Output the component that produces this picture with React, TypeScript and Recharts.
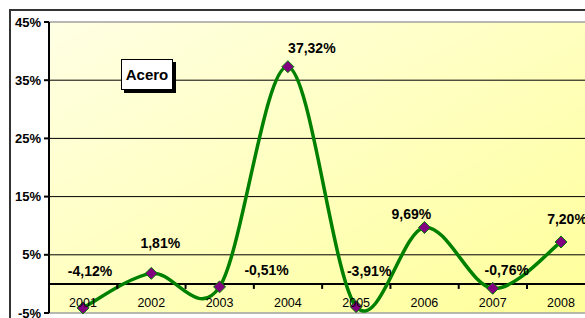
import { LineChart, Line, XAxis, YAxis, ReferenceLine, CartesianGrid, LabelList } from 'recharts';

const years = ['2001', '2002', '2003', '2004', '2005', '2006', '2007', '2008'];
const acero = [-4.12, 1.81, -0.51, 37.32, -3.91, 9.69, -0.76, 7.2];
const yTicks = [-5, 5, 15, 25, 35, 45];
const gridValues = [5, 15, 25, 35];

const data = years.map((year, i) => ({ year, acero: acero[i] }));

// label nudges (dx, dy) so they sit where the original put them
const LABEL_SHIFT: [number, number][] = [
  [7, -37],
  [9, -30],
  [47, -17],
  [24, -19],
  [13, -36],
  [-13, -14],
  [14, -18],
  [6, -23],
];

const FONT = '"Liberation Sans", Arial, sans-serif';
const W = 600;
const H = 318;
const X_AXIS_H = 5;
const MARGIN = { top: 22, right: 5, left: 10, bottom: 0 };
const Y_MIN = -5;
const Y_MAX = 45;
const PAD = 34;
const plotH = H - MARGIN.top - MARGIN.bottom - X_AXIS_H;
const zeroY = MARGIN.top + (plotH * Y_MAX) / (Y_MAX - Y_MIN);

// Excel-style smoothed line (Catmull-Rom through every point)
const excelSmooth = (context: any) => {
  let pts: number[][] = [];
  return {
    areaStart() {},
    areaEnd() {},
    lineStart() {
      pts = [];
    },
    point(x: number, y: number) {
      pts.push([+x, +y]);
    },
    lineEnd() {
      if (!pts.length) return;
      context.moveTo(pts[0][0], pts[0][1]);
      for (let i = 0; i < pts.length - 1; i++) {
        const p0 = pts[Math.max(i - 1, 0)];
        const p1 = pts[i];
        const p2 = pts[i + 1];
        const p3 = pts[Math.min(i + 2, pts.length - 1)];
        context.bezierCurveTo(
          p1[0] + (p2[0] - p0[0]) / 6,
          p1[1] + (p2[1] - p0[1]) / 6,
          p2[0] - (p3[0] - p1[0]) / 6,
          p2[1] - (p3[1] - p1[1]) / 6,
          p2[0],
          p2[1]
        );
      }
    },
  };
};

const Diamond = (props: any) => {
  const { cx, cy } = props;
  if (cx == null || cy == null) return null;
  const r = 6;
  return (
    <path
      d={`M${cx},${cy - r}L${cx + r},${cy}L${cx},${cy + r}L${cx - r},${cy}Z`}
      fill="#800080"
      stroke="#008000"
      strokeWidth={1}
    />
  );
};

const XTick = (props: any) => {
  const { x, payload } = props;
  return (
    <g>
      <line x1={x - PAD} x2={x - PAD} y1={zeroY} y2={zeroY + 5} stroke="#000" strokeWidth={2} />
      <text
        x={x}
        y={zeroY + 23}
        textAnchor="middle"
        fontFamily={FONT}
        fontSize={12.5}
        fill="#000"
      >
        {payload.value}
      </text>
    </g>
  );
};

const ValueLabel = (props: any) => {
  const { x, y, value, index } = props;
  const [dx, dy] = LABEL_SHIFT[index] || [0, -15];
  return (
    <text
      x={x + dx}
      y={y + dy}
      textAnchor="middle"
      dominantBaseline="central"
      fontFamily={FONT}
      fontWeight="bold"
      fontSize={14}
      fill="#000"
    >
      {value.toFixed(2).replace('.', ',')}%
    </text>
  );
};

export default function App() {
  return (
    <div
      style={{
        position: 'absolute',
        left: 0,
        top: 0,
        width: 585,
        height: 318,
        overflow: 'hidden',
        background: '#fff',
      }}
    >
      <div
        style={{
          position: 'absolute',
          left: 9,
          top: 9,
          width: 700,
          height: 400,
          borderLeft: '2px solid #333',
          borderTop: '2px solid #333',
        }}
      />
      <div style={{ position: 'absolute', left: 0, top: 0 }}>
        <LineChart width={W} height={H} data={data} margin={MARGIN}>
          <defs>
            <linearGradient id="plotBg" x1="0" y1="0" x2="1" y2="1">
              <stop offset="0%" stopColor="#ffffe4" />
              <stop offset="100%" stopColor="#ffff99" />
            </linearGradient>
          </defs>
          <CartesianGrid horizontal={false} vertical={false} fill="url(#plotBg)" fillOpacity={1} />
          <ReferenceLine y={Y_MAX} stroke="#a0a0a0" strokeWidth={1.5} />
          <ReferenceLine y={Y_MIN} stroke="#a0a0a0" strokeWidth={1.5} />
          {gridValues.map((v) => (
            <ReferenceLine key={v} y={v} stroke="#000" strokeWidth={1} />
          ))}
          <XAxis
            dataKey="year"
            height={X_AXIS_H}
            padding={{ left: PAD, right: PAD }}
            axisLine={false}
            tickLine={false}
            tick={<XTick />}
            interval={0}
          />
          <YAxis
            width={39}
            domain={[Y_MIN, Y_MAX]}
            ticks={yTicks}
            interval={0}
            tickFormatter={(v) => `${v}%`}
            axisLine={{ stroke: '#000', strokeWidth: 2 }}
            tickLine={{ stroke: '#000', strokeWidth: 2 }}
            tickSize={5}
            tickMargin={3}
            tick={{ fill: '#000', fontFamily: FONT, fontWeight: 'bold', fontSize: 13 }}
          />
          <ReferenceLine y={0} stroke="#000" strokeWidth={2} />
          <Line
            dataKey="acero"
            type={excelSmooth as any}
            stroke="#008000"
            strokeWidth={3.5}
            dot={<Diamond />}
            activeDot={false}
            isAnimationActive={false}
          >
            <LabelList dataKey="acero" content={<ValueLabel />} />
          </Line>
        </LineChart>
      </div>
      <div
        style={{
          position: 'absolute',
          left: 121,
          top: 59,
          width: 50,
          height: 29,
          border: '1px solid #000',
          background: '#fff',
          boxShadow: '3px 3px 0 #000',
          fontFamily: FONT,
          fontWeight: 'bold',
          fontSize: 15,
          lineHeight: '29px',
          textAlign: 'center',
          color: '#000',
        }}
      >
        Acero
      </div>
    </div>
  );
}
